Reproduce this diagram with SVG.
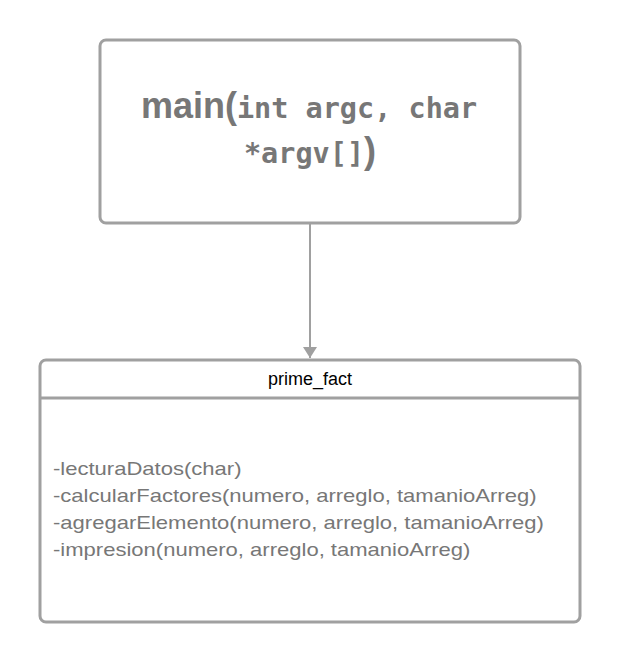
<svg xmlns="http://www.w3.org/2000/svg" width="620" height="662" viewBox="0 0 620 662">
<defs>
<style>
.box{fill:#fff;stroke:#a0a0a0;stroke-width:3}
.sans{font-family:"Liberation Sans",Arial,sans-serif}
.mono{font-family:"DejaVu Sans Mono","Liberation Mono",monospace}
.title{fill:#777;font-weight:bold}
.meth{fill:#777;font-size:19px}
.conn{stroke:#a0a0a0;stroke-width:2;fill:none}
</style>
<marker id="arr" markerWidth="12" markerHeight="14" refX="11" refY="7" orient="auto" markerUnits="userSpaceOnUse">
<path d="M0,0 L11,7 L0,14 Z" fill="#a0a0a0"/>
</marker>
</defs>
<rect width="620" height="662" fill="#fff"/>
<g id="connectors">
<line class="conn" x1="310" y1="223" x2="310" y2="358" marker-end="url(#arr)"/>
</g>
<g id="main">
<rect class="box" x="100" y="40" width="420" height="183" rx="6"/>
<text class="title" x="309" y="118" text-anchor="middle"><tspan class="sans" font-size="36">main(</tspan><tspan class="mono" font-size="28.5">int argc, char</tspan></text>
<text class="title" x="310" y="163" text-anchor="middle"><tspan class="mono" font-size="28.5">*argv[]</tspan><tspan class="sans" font-size="36">)</tspan></text>
</g>
<g id="prime_fact">
<rect class="box" x="40" y="360" width="540" height="262" rx="6"/>
<line x1="40" y1="398" x2="580" y2="398" stroke="#a0a0a0" stroke-width="3"/>
<text class="sans" x="310" y="385" text-anchor="middle" font-size="18" fill="#000">prime_fact</text>
<g transform="translate(53,0) scale(1.16,1)">
<text class="sans meth" x="0" y="475">-lecturaDatos(char)</text>
<text class="sans meth" x="0" y="502">-calcularFactores(numero, arreglo, tamanioArreg)</text>
<text class="sans meth" x="0" y="529">-agregarElemento(numero, arreglo, tamanioArreg)</text>
<text class="sans meth" x="0" y="556">-impresion(numero, arreglo, tamanioArreg)</text>
</g>
</g>
</svg>
